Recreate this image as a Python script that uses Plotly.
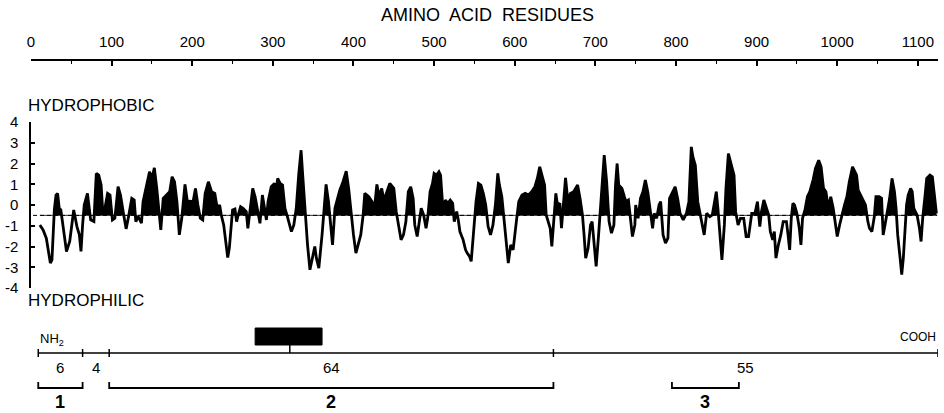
import plotly.graph_objects as go

# ---------------- data ----------------
residues = [
    11, 15, 19, 22, 24, 26, 28, 29, 31, 33, 35, 37, 39, 41, 44, 48, 51, 53, 55, 57,
    60, 62, 64, 66, 70, 72, 74, 78, 81, 84, 87, 89, 92, 95, 98, 101, 104, 108, 111, 115,
    118, 121, 125, 128, 130, 133, 137, 139, 143, 147, 150, 153, 156, 159, 161, 164, 168, 172, 175, 178,
    181, 184, 187, 189, 191, 194, 197, 201, 204, 207, 210, 213, 216, 220,
    224, 228, 231, 234, 236, 239, 242, 244, 246, 248, 250, 253, 255, 257, 260, 263, 267, 269, 272, 275,
    278, 281, 284, 287, 290, 292, 294, 298, 302, 304, 306, 309, 312, 315, 318, 321, 323, 326, 329, 332,
    335, 337, 340, 343, 346, 350, 352, 354, 357, 361, 364, 366, 369, 372, 374, 377, 380, 383, 387, 391,
    394, 397, 400, 403, 406, 409, 412, 414, 419, 423, 426, 429, 432, 435, 438, 440,
    445, 450, 453, 456, 459, 462, 465, 468, 471, 474, 476, 479, 481, 484, 487, 490, 492, 495, 498, 500,
    503, 506, 508, 511, 514, 517, 520, 523, 525, 528, 530, 532, 536, 539, 541, 544, 546, 549, 552, 555,
    558, 561, 564, 567, 570, 573, 576, 579, 581, 584, 587, 589, 592, 595, 598, 602, 605, 609, 613, 617,
    621, 625, 628, 631, 634, 637, 639, 642, 644, 646, 648, 651, 653, 656, 658, 660, 663, 666, 669,
    673, 678, 681, 684, 686, 688, 691, 694, 696, 699, 701, 704, 707, 709, 711, 714, 717, 720, 723, 725,
    727, 729, 733, 736, 738, 741, 743, 746, 749, 750, 753, 756, 759, 762, 765, 768, 771, 773, 776, 779,
    781, 784, 787, 790, 792, 795, 799, 802, 805, 809, 813, 816, 819, 821, 824, 827, 830, 833, 835, 838,
    842, 845, 848, 850, 852, 855, 857, 860, 862, 865, 868, 872, 874, 877, 880, 884, 887, 890,
    894, 898, 901, 904, 906, 909, 911, 915, 917, 920, 922, 924, 927, 930, 933, 937, 939, 941, 943, 945,
    947, 950, 953, 955, 957, 960, 963, 966, 970, 973, 977, 980, 983, 986, 989, 992, 995, 997, 1000, 1003,
    1006, 1009, 1012, 1015, 1019, 1024, 1026, 1031, 1035, 1038, 1040, 1043, 1046, 1048, 1052, 1055, 1057, 1060, 1062, 1065,
    1068, 1071, 1073, 1075, 1078, 1080, 1082, 1084, 1086, 1088, 1091, 1093, 1095, 1099, 1102, 1104, 1106, 1109, 1111, 1115,
    1118, 1121, 1123,
]
hydropathy = [
    -0.96, -1.20, -1.60, -2.40, -2.80, -2.64, -1.00, -0.20, 0.48, 0.56, -0.16, -0.24, -0.80, -1.44, -2.24, -1.76, -0.80, -0.24, -0.64, -1.04,
    -1.44, -2.24, -0.96, 0.00, 0.56, 0.00, -0.72, -0.80, 1.52, 1.44, 0.96, -0.32, -0.08, 0.56, 0.48, -0.72, -0.64, 0.88, 0.48, -0.48,
    -1.15, -0.56, 0.32, 0.24, -0.80, -0.56, -0.88, 0.16, 0.88, 1.60, 1.28, 1.79, 0.80, -0.32, -1.20, 0.32, 0.48, 0.64, 1.36, 1.12,
    0.16, -1.44, -0.64, 0.24, 0.99, 0.16, 0.19, 0.16, 0.80, 0.00, -0.64, -0.72, 0.56, 1.12,
    0.64, 0.56, -0.16, 0.00, -0.48, -0.96, -1.76, -2.53, -2.08, -0.96, -0.24, -0.19, -0.80, -0.48, -0.08, -0.16, -0.32, -1.12, -0.24, 0.80,
    0.40, -0.16, -0.88, 0.48, -0.24, -0.72, 0.16, 0.88, 1.04, 0.72, 1.28, 1.04, 0.96, -0.16, -0.56, -1.04, -1.28, -0.96, -0.16, 1.44,
    2.64, 1.44, -0.32, -1.92, -3.12, -2.32, -2.00, -2.56, -3.04, -1.44, 0.32, 0.99, 0.16, -1.28, -1.92, -0.16, 0.32, 0.72, 1.12, 1.63,
    0.80, -0.40, -1.44, -2.32, -1.92, -1.44, -0.48, 0.56, 0.40, 0.16, -0.16, 0.99, 0.40, 0.80, 0.16, 0.48,
    1.04, 0.80, -0.32, -1.12, -1.68, -1.44, -0.80, 0.64, 0.88, 0.32, -0.96, -1.52, -0.88, -0.16, -0.48, -1.12, -0.64, 0.64, 1.04, 1.52,
    1.44, 1.60, 1.44, -0.24, 0.24, 0.08, 0.24, 0.08, -0.80, -0.32, -0.72, -1.28, -1.68, -2.16, -2.32, -2.48, -2.72, -1.44, 0.16, 1.04,
    0.96, 0.56, 0.00, -1.04, -1.44, -0.96, 0.00, 1.52, 0.96, 0.40, -0.72, -1.68, -2.80, -1.92, -2.16, -0.80, 0.16, 0.48, 0.56, 0.48,
    0.64, 0.88, 1.28, 1.84, 1.36, 0.96, -0.48, -0.88, -1.12, -2.00, -0.80, 0.56, 0.00, 0.08, -1.12, -0.16, 1.31, 0.16, 0.56,
    0.64, 0.96, 0.32, -0.48, -1.44, -2.56, -2.08, -0.96, -0.80, -1.92, -2.96, -1.44, 0.16, 1.60, 2.40, 1.12, -0.80, -1.36, -0.96, 0.96,
    2.00, 0.96, 0.80, 0.40, 0.16, 0.24, -0.48, -1.52, -0.96, 0.00, -0.64, 0.32, 0.64, 1.20, 0.64, -0.16, -1.12, -0.40, -0.64, 0.00,
    0.16, -1.44, -1.84, -1.60, 0.32, 0.56, 0.88, 0.32, -0.40, -0.72, -0.40, 0.16, 2.80, 2.32, 1.92, 0.16, -0.48, -0.96, -1.44, -0.40,
    -0.56, -0.48, 0.24, 0.64, -0.16, -1.44, -2.64, -0.96, 0.80, 2.48, 2.08, 1.44, -0.32, -0.96, -0.64, -0.64, -1.52, -1.52,
    -0.40, -0.40, 0.16, -1.04, -0.32, 0.24, 0.00, -0.48, -1.28, -1.68, -1.28, -2.56, -1.92, -1.44, -0.80, -0.80, -1.44, -2.16, -0.64, 0.08,
    0.00, -0.40, -1.12, -1.92, -0.64, -0.24, 0.40, 0.64, 1.20, 1.76, 2.16, 1.84, 0.80, 0.64, -0.16, 0.40, -0.16, -0.80, -1.52, -0.96,
    -0.40, 0.00, 0.40, 1.12, 1.84, 1.44, 0.72, 0.32, 0.00, -0.80, -1.12, -1.28, -0.56, 0.40, 0.40, 0.32, -1.44, -0.80, -0.32, 0.32,
    1.28, 0.64, -0.16, -1.44, -2.56, -3.36, -2.56, -0.96, 0.00, 0.48, 0.80, 0.64, -0.16, -0.48, -1.12, -1.76, -0.64, 0.48, 1.28, 1.44,
    1.36, 0.32, -0.40,
]
x_tick_vals = [0, 100, 200, 300, 400, 500, 600, 700, 800, 900, 1000, 1100]
x_tick_text = ["0", "100", "200", "300", "400", "500", "600", "700", "800", "900", "1000", "1100"]
x_minor_vals = [50, 150, 250, 350, 450, 550, 650, 750, 850, 950, 1050]
y_tick_vals = [-4, -3, -2, -1, 0, 1, 2, 3, 4]
y_tick_text = ["-4", "-3", "-2", "-1", "0", "1", "2", "3", "4"]
baseline = -0.5

segment_bounds = [9, 64, 97, 648, 1125]
segment_labels = ["6", "4", "64", "55"]
fragment_names = ["1", "2", "3"]
fragment_starts = [9, 97, 795]
fragment_ends = [64, 648, 878]
box_range = [278, 361]
box_stem = 321

# ---------------- figure ----------------
W, H = 944.0, 413.0
ML, MR = 31, 6


def py(p):
    return 1 - p / H


def px(p):
    return (p - ML) / (W - ML - MR)


FONT = "Liberation Sans, Arial, sans-serif"

# filled part above the baseline (crossing points inserted)
fx, fy = [], []
for i in range(len(residues)):
    x, v = residues[i], hydropathy[i]
    if i > 0:
        x0, v0 = residues[i - 1], hydropathy[i - 1]
        if (v0 - baseline) * (v - baseline) < 0:
            t = (baseline - v0) / (v - v0)
            fx.append(x0 + t * (x - x0))
            fy.append(baseline)
    fx.append(x)
    fy.append(max(v, baseline))
fx += [fx[-1], fx[0]]
fy += [baseline, baseline]

fig = go.Figure()
fig.add_trace(go.Scatter(x=fx, y=fy, mode="lines", fill="toself", fillcolor="black",
                         line=dict(width=0.5, color="black"), hoverinfo="skip"))
fig.add_trace(go.Scatter(x=residues, y=hydropathy, mode="lines",
                         line=dict(width=2.8, color="black")))

shapes = []
shapes.append(dict(type="line", xref="x", yref="y", x0=2.5, x1=1124, y0=baseline, y1=baseline,
                   line=dict(color="black", width=1, dash="4px,3px"), layer="below"))

yl = py(353)
shapes.append(dict(type="line", xref="x", yref="paper", x0=segment_bounds[0], x1=segment_bounds[-1],
                   y0=yl, y1=yl, line=dict(color="black", width=1.5)))
for b in segment_bounds:
    shapes.append(dict(type="line", xref="x", yref="paper", x0=b, x1=b, y0=py(349), y1=py(357),
                       line=dict(color="black", width=1.5)))
shapes.append(dict(type="rect", xref="x", yref="paper", x0=box_range[0], x1=box_range[1],
                   y0=py(345), y1=py(328), fillcolor="black", line=dict(color="black", width=1)))
shapes.append(dict(type="line", xref="x", yref="paper", x0=box_stem, x1=box_stem, y0=py(345), y1=yl,
                   line=dict(color="black", width=1.5)))
for s, e in zip(fragment_starts, fragment_ends):
    shapes.append(dict(type="path", xref="x", yref="paper",
                       path=f"M {s},{py(382)} L {s},{py(388)} L {e},{py(388)} L {e},{py(382)}",
                       line=dict(color="black", width=1.8)))

annotations = []
annotations.append(dict(text="AMINO  ACID  RESIDUES", x=px(487), y=py(15), xref="paper", yref="paper",
                        xanchor="center", yanchor="middle", showarrow=False,
                        font=dict(size=18, family=FONT, color="black")))
annotations.append(dict(text="HYDROPHOBIC", x=px(26), y=py(105), xref="paper", yref="paper",
                        xanchor="left", yanchor="middle", showarrow=False,
                        font=dict(size=17, family=FONT, color="black")))
annotations.append(dict(text="HYDROPHILIC", x=px(26), y=py(300), xref="paper", yref="paper",
                        xanchor="left", yanchor="middle", showarrow=False,
                        font=dict(size=17, family=FONT, color="black")))
annotations.append(dict(text="NH<sub>2</sub>", x=segment_bounds[0], y=py(339), xref="x", yref="paper",
                        xanchor="left", yanchor="middle", showarrow=False,
                        font=dict(size=13, family=FONT, color="black")))
annotations.append(dict(text="COOH", x=segment_bounds[-1], y=py(337), xref="x", yref="paper",
                        xanchor="right", yanchor="middle", showarrow=False,
                        font=dict(size=12, family=FONT, color="black")))
for i, lab in enumerate(segment_labels):
    xm = (segment_bounds[i] + segment_bounds[i + 1]) / 2
    annotations.append(dict(text=lab, x=xm, y=py(367), xref="x", yref="paper",
                            xanchor="center", yanchor="middle", showarrow=False,
                            font=dict(size=15, family=FONT, color="black")))
for name, s, e in zip(fragment_names, fragment_starts, fragment_ends):
    annotations.append(dict(text=f"<b>{name}</b>", x=(s + e) / 2, y=py(402), xref="x", yref="paper",
                            xanchor="center", yanchor="middle", showarrow=False,
                            font=dict(size=18, family=FONT, color="black")))

fig.update_layout(
    width=944, height=413,
    margin=dict(l=ML, r=MR, t=0, b=0, pad=0, autoexpand=False),
    paper_bgcolor="white", plot_bgcolor="white", showlegend=False,
    font=dict(family=FONT, color="black"),
    xaxis=dict(range=[0, 1125], domain=[0, 1], anchor="free", position=py(60), side="top",
               tickmode="array", tickvals=x_tick_vals, ticktext=x_tick_text,
               ticks="inside", ticklen=5, tickwidth=1.5, tickcolor="black",
               showline=True, linewidth=1.5, linecolor="black",
               showgrid=False, zeroline=False, automargin=False,
               tickfont=dict(size=15, family=FONT, color="black"), ticklabelstandoff=6,
               minor=dict(tickmode="array", tickvals=x_minor_vals, ticks="inside", ticklen=3,
                          tickwidth=1.2, tickcolor="black", showgrid=False)),
    yaxis=dict(range=[-4, 4], domain=[py(288), py(122)], anchor="x",
               tickmode="array", tickvals=y_tick_vals, ticktext=y_tick_text,
               ticks="inside", ticklen=4, tickwidth=1.5, tickcolor="black",
               showline=True, linewidth=1.5, linecolor="black",
               showgrid=False, zeroline=False, automargin=False,
               tickfont=dict(size=15, family=FONT, color="black"), ticklabelstandoff=8),
    shapes=shapes, annotations=annotations,
)

fig.write_html("out.html", config={"displayModeBar": False},
               post_script="document.body.style.margin='0px';document.body.style.padding='0px';"
                           "document.body.style.overflow='hidden';")
